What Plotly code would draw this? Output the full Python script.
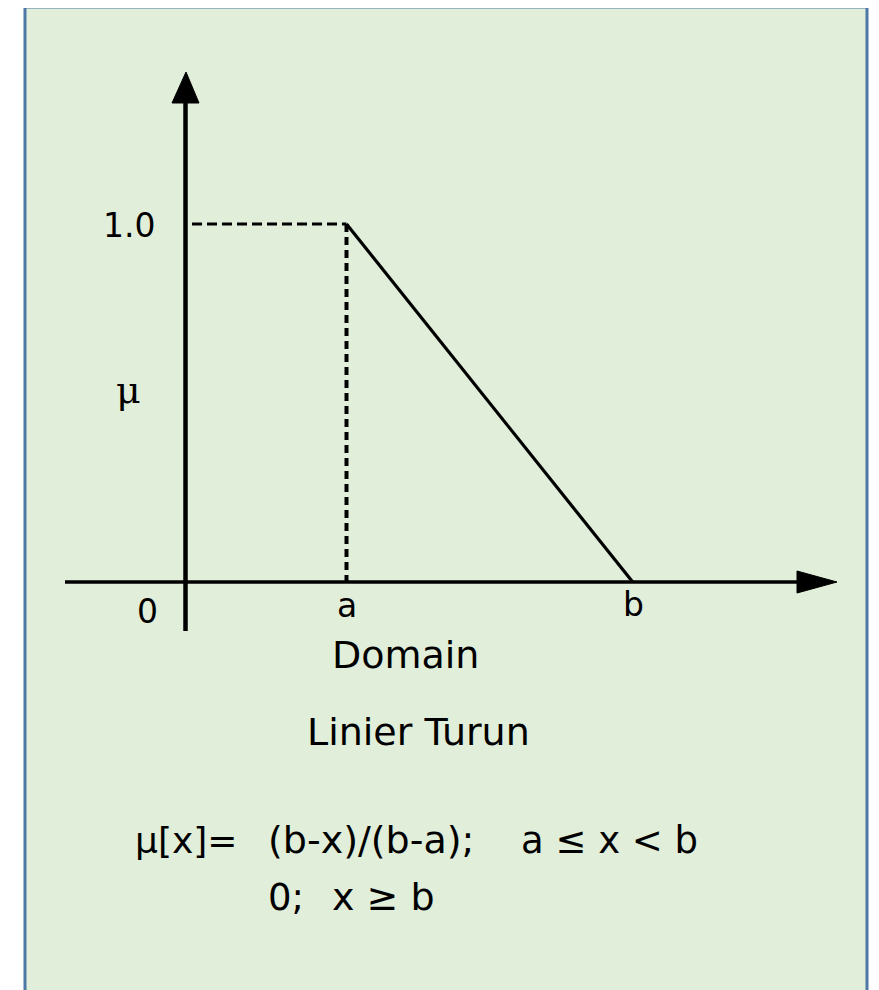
import plotly.graph_objects as go

# ---- data ----
a_val = 1.8
b_val = 5.0
curve_x = [a_val, b_val]          # membership: linear decreasing
curve_mu = [1.0, 0.0]
tick_names = ["0", "a", "b"]
tick_vals = [0.0, a_val, b_val]
mu_top_label = "1.0"
x_title = "Domain"
chart_title = "Linier Turun"

# page has an 8px body margin; figure covers reference pixels 8..879 x 8..990
OFF = 8
PW, PH = 879, 990
W, H = PW - OFF, PH - OFF
# pixel <-> data mapping (origin pixel, px per unit), in reference pixel coords
OX, OY = 185.5, 582.0
SX = (346.5 - OX) / a_val
SY = 582.0 - 224.0

def dx(px):
    return (px - OX) / SX

def dy(py):
    return (OY - py) / SY

def px_paper(px):
    return (px - OFF) / W

def py_paper(py):
    return 1 - (py - OFF) / H

fig = go.Figure()

# background panel with blue border
fig.add_shape(type="rect", xref="paper", yref="paper",
              x0=px_paper(25), x1=px_paper(867), y0=-0.02, y1=py_paper(7),
              line=dict(color="#4E79A7", width=3), fillcolor="#E1EED9", layer="below")

black = "#000000"
# axes
fig.add_trace(go.Scatter(x=[0, 0], y=[dy(631), dy(100)], mode="lines",
                         line=dict(color=black, width=4.5), hoverinfo="skip"))
fig.add_trace(go.Scatter(x=[dx(65), dx(800)], y=[0, 0], mode="lines",
                         line=dict(color=black, width=3.5), hoverinfo="skip"))
# arrowheads
fig.add_trace(go.Scatter(x=[dx(172), dx(186), dx(199), dx(172)],
                         y=[dy(103), dy(72), dy(103), dy(103)],
                         mode="lines", fill="toself", fillcolor=black,
                         line=dict(color=black, width=1), hoverinfo="skip"))
fig.add_trace(go.Scatter(x=[dx(797), dx(837), dx(797), dx(797)],
                         y=[dy(571), dy(582), dy(593), dy(571)],
                         mode="lines", fill="toself", fillcolor=black,
                         line=dict(color=black, width=1), hoverinfo="skip"))

# dashed guide lines
fig.add_trace(go.Scatter(x=[dx(192), a_val], y=[curve_mu[0], curve_mu[0]], mode="lines",
                         line=dict(color=black, width=3, dash="10px,5px"), hoverinfo="skip"))
fig.add_trace(go.Scatter(x=[a_val, a_val], y=[curve_mu[0], 0], mode="lines",
                         line=dict(color=black, width=4, dash="8px,5px"), hoverinfo="skip"))
# membership line
fig.add_trace(go.Scatter(x=curve_x, y=curve_mu, mode="lines",
                         line=dict(color=black, width=3.2), hoverinfo="skip"))

lab_font = dict(family="DejaVu Sans", size=33, color=black)
# tick labels
shifts = [(-38, -29), (0, -23), (1, -22)]
for name, v, (xs, ys) in zip(tick_names, tick_vals, shifts):
    fig.add_annotation(x=v, y=0, xref="x", yref="y", text=name, showarrow=False,
                       xanchor="center", yanchor="middle", xshift=xs, yshift=ys, font=lab_font)
fig.add_annotation(x=0, y=1.0, xref="x", yref="y", text=mu_top_label, showarrow=False,
                   xanchor="right", yanchor="middle", xshift=-29, yshift=-1, font=lab_font)
fig.add_annotation(x=0, y=dy(390), xref="x", yref="y", text="\u03bc", showarrow=False,
                   xanchor="center", yanchor="middle", xshift=-57,
                   font=dict(family="DejaVu Serif", size=38, color=black))

def ptxt(px, py, text, size=36, anchor="center"):
    fig.add_annotation(x=px_paper(px), y=py_paper(py), xref="paper", yref="paper", text=text,
                       showarrow=False, xanchor=anchor, yanchor="middle",
                       font=dict(family="DejaVu Sans", size=size, color=black))

ptxt(405, 655, x_title, 38)
ptxt(418, 732, chart_title, 38)

# formula
ptxt(133, 840, "\u03bc[x]=", 36, "left")
ptxt(266, 840, "(b-x)/(b-a);", 38, "left")
ptxt(519, 840, "a \u2264 x &lt; b", 37, "left")
ptxt(266, 897, "0;", 37, "left")
ptxt(330, 897, "x \u2265 b", 38, "left")

fig.update_layout(
    width=W, height=H, autosize=False,
    margin=dict(l=0, r=0, t=0, b=0),
    paper_bgcolor="white", plot_bgcolor="rgba(0,0,0,0)",
    showlegend=False, hovermode=False,
    xaxis=dict(range=[dx(OFF), dx(PW)], visible=False, fixedrange=True),
    yaxis=dict(range=[dy(PH), dy(OFF)], visible=False, fixedrange=True),
)

fig.write_html("out.html")
